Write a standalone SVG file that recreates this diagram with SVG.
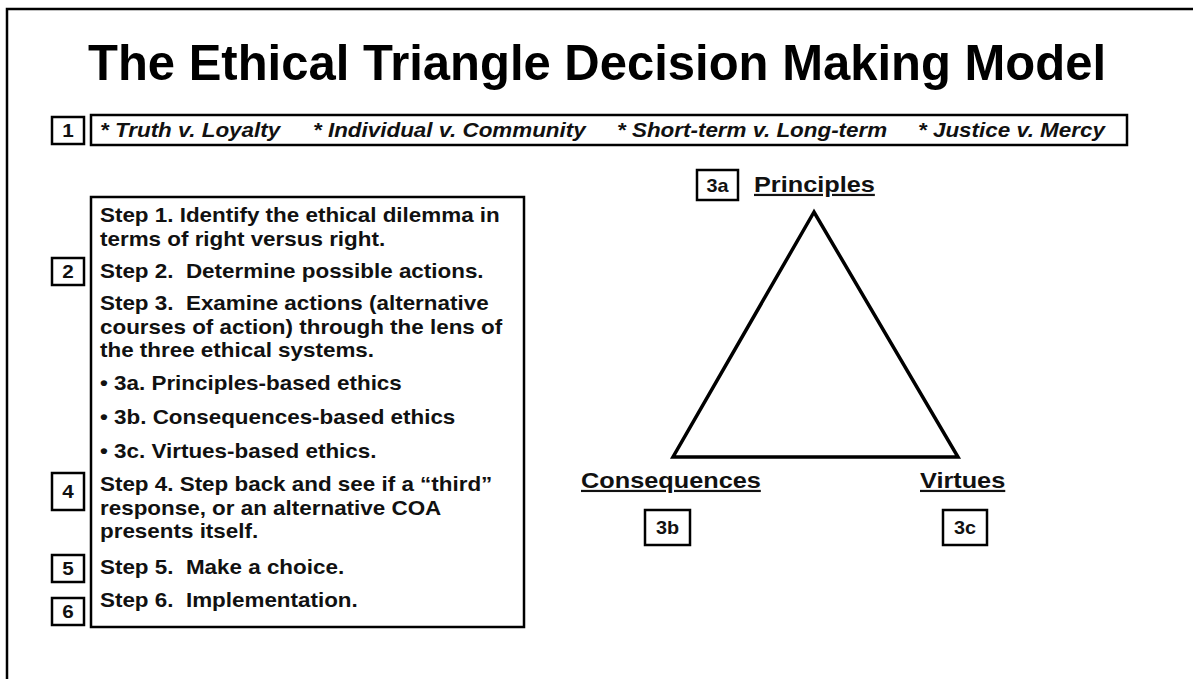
<svg xmlns="http://www.w3.org/2000/svg" width="1193" height="679" viewBox="0 0 1193 679">
<style>
.box{fill:#fff;stroke:#000;stroke-width:2.5}
.num{font-family:"Liberation Sans",Arial,sans-serif;font-weight:bold;font-size:18px;text-anchor:middle;fill:#111}
.t{font-family:"Liberation Sans",Arial,sans-serif;font-weight:bold;font-size:19.5px;fill:#111}
.it{font-family:"Liberation Sans",Arial,sans-serif;font-weight:bold;font-style:italic;font-size:19.5px;fill:#111}
.lab{font-family:"Liberation Sans",Arial,sans-serif;font-weight:bold;font-size:22px;fill:#111;text-decoration:underline}
</style>
<rect width="1193" height="679" fill="#fff"/>
<path d="M7 700 V9 H1200" fill="none" stroke="#000" stroke-width="2.5"/>
<g id="title">
<text x="597" y="80" font-family="Liberation Sans,Arial,sans-serif" font-weight="bold" font-size="50" text-anchor="middle" textLength="1018" lengthAdjust="spacingAndGlyphs" fill="#000">The Ethical Triangle Decision Making Model</text>
</g>
<g id="n1">
<rect class="box" x="52" y="117" width="32" height="27"/>
<text class="num" transform="translate(68,137) scale(1.15,1)">1</text>
</g>
<g id="tensions">
<rect class="box" x="91" y="115" width="1036" height="30"/>
<text class="it" transform="translate(100,137) scale(1.15,1)">* Truth v. Loyalty</text>
<text class="it" transform="translate(313,137) scale(1.15,1)">* Individual v. Community</text>
<text class="it" transform="translate(617,137) scale(1.15,1)">* Short-term v. Long-term</text>
<text class="it" transform="translate(918,137) scale(1.15,1)">* Justice v. Mercy</text>
</g>
<g id="steps">
<rect class="box" x="91" y="197" width="433" height="430"/>
<g transform="translate(100,0) scale(1.15,1)">
<text class="t" x="0" y="222">Step 1. Identify the ethical dilemma in</text>
<text class="t" x="0" y="246">terms of right versus right.</text>
<text class="t" x="0" y="278" xml:space="preserve">Step 2.  Determine possible actions.</text>
<text class="t" x="0" y="310" xml:space="preserve">Step 3.  Examine actions (alternative</text>
<text class="t" x="0" y="334">courses of action) through the lens of</text>
<text class="t" x="0" y="357">the three ethical systems.</text>
<text class="t" x="0" y="390">• 3a. Principles-based ethics</text>
<text class="t" x="0" y="424">• 3b. Consequences-based ethics</text>
<text class="t" x="0" y="458">• 3c. Virtues-based ethics.</text>
<text class="t" x="0" y="491">Step 4. Step back and see if a “third”</text>
<text class="t" x="0" y="515">response, or an alternative COA</text>
<text class="t" x="0" y="538">presents itself.</text>
<text class="t" x="0" y="574" xml:space="preserve">Step 5.  Make a choice.</text>
<text class="t" x="0" y="607" xml:space="preserve">Step 6.  Implementation.</text>
</g>
</g>
<g id="n2"><rect class="box" x="52" y="258" width="32" height="27"/><text class="num" transform="translate(68,278) scale(1.15,1)">2</text></g>
<g id="n4"><rect class="box" x="52" y="473" width="32" height="37"/><text class="num" transform="translate(68,498) scale(1.15,1)">4</text></g>
<g id="n5"><rect class="box" x="52" y="555" width="32" height="27"/><text class="num" transform="translate(68,575) scale(1.15,1)">5</text></g>
<g id="n6"><rect class="box" x="52" y="598" width="32" height="27"/><text class="num" transform="translate(68,618) scale(1.15,1)">6</text></g>
<g id="triangle">
<polygon points="814,212 673,457 958,457" fill="none" stroke="#000" stroke-width="3.5" stroke-linejoin="miter"/>
</g>
<g id="principles">
<rect class="box" x="697" y="170" width="41" height="30"/>
<text class="num" transform="translate(717.5,192) scale(1.1,1)">3a</text>
<text class="lab" transform="translate(754,192) scale(1.15,1)">Principles</text>
</g>
<g id="consequences">
<text class="lab" transform="translate(581,488) scale(1.15,1)">Consequences</text>
<rect class="box" x="645" y="510" width="45" height="35"/>
<text class="num" transform="translate(667.5,534) scale(1.1,1)">3b</text>
</g>
<g id="virtues">
<text class="lab" transform="translate(920,488) scale(1.15,1)">Virtues</text>
<rect class="box" x="943" y="510" width="44" height="35"/>
<text class="num" transform="translate(965,534) scale(1.1,1)">3c</text>
</g>
</svg>
